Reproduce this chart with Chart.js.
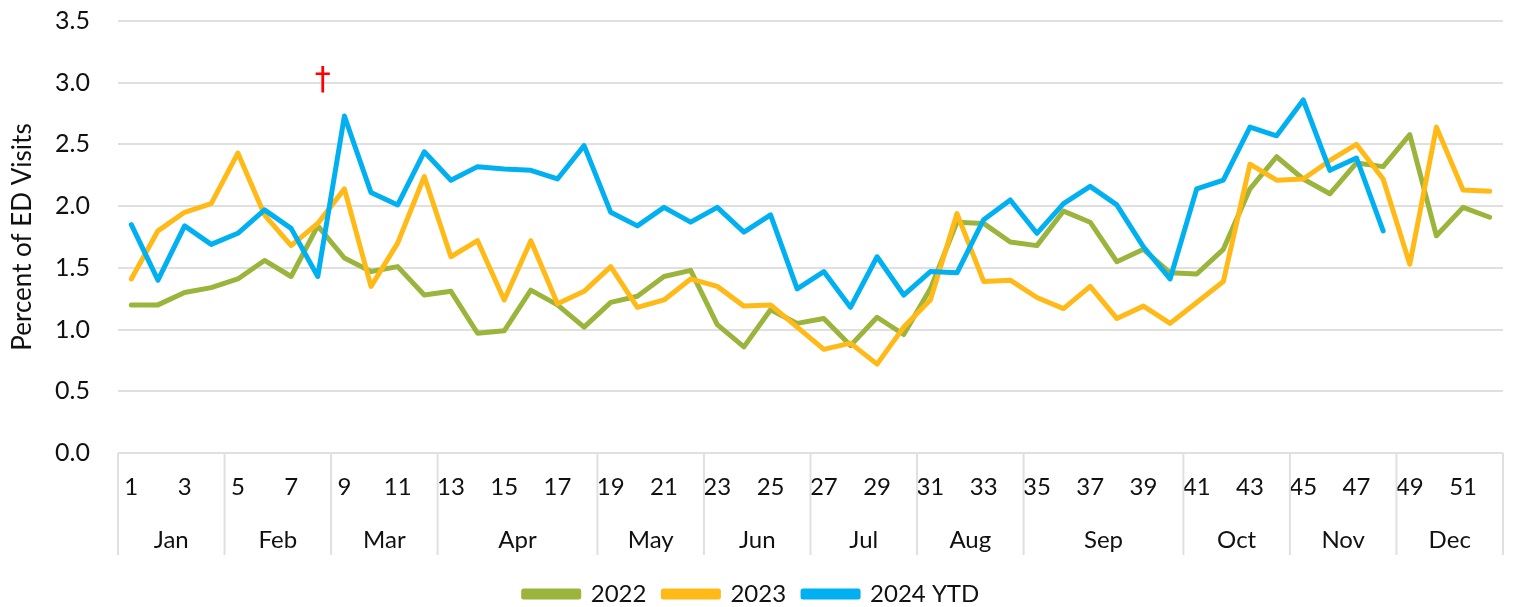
<!DOCTYPE html>
<html>
<head>
<meta charset="utf-8">
<script src="https://cdn.jsdelivr.net/npm/chart.js@4.4.1/dist/chart.umd.min.js"></script>
<style>
  html, body { margin: 0; padding: 0; background: #fff; }
  #wrap { width: 1515px; height: 607px; }
</style>
</head>
<body>
<div id="wrap"><canvas id="edChart" width="1515" height="607"></canvas></div>
<script>
// week numbers (x categories)
const weeks = [];
for (let w = 1; w <= 52; w++) weeks.push(String(w));

// month groups under the week numbers
const months = ['Jan', 'Feb', 'Mar', 'Apr', 'May', 'Jun', 'Jul', 'Aug', 'Sep', 'Oct', 'Nov', 'Dec'];
const monthWeeks = [4, 4, 4, 6, 4, 4, 4, 4, 6, 4, 4, 4];

const yTicks = [0, 0.5, 1.0, 1.5, 2.0, 2.5, 3.0, 3.5];

const values2022 = [1.20, 1.20, 1.30, 1.34, 1.41, 1.56, 1.43, 1.84, 1.58, 1.47,
	1.51, 1.28, 1.31, 0.97, 0.99, 1.32, 1.20, 1.02, 1.22, 1.27,
	1.43, 1.48, 1.04, 0.86, 1.16, 1.05, 1.09, 0.87, 1.10, 0.96,
	1.33, 1.87, 1.86, 1.71, 1.68, 1.96, 1.87, 1.55, 1.65, 1.46,
	1.45, 1.65, 2.14, 2.40, 2.22, 2.10, 2.35, 2.32, 2.58, 1.76,
	1.99, 1.91];

const values2023 = [1.41, 1.80, 1.95, 2.02, 2.43, 1.93, 1.68, 1.86, 2.14, 1.35,
	1.70, 2.24, 1.59, 1.72, 1.24, 1.72, 1.21, 1.31, 1.51, 1.18,
	1.24, 1.41, 1.35, 1.19, 1.20, 1.02, 0.84, 0.89, 0.72, 1.02,
	1.24, 1.94, 1.39, 1.40, 1.26, 1.17, 1.35, 1.09, 1.19, 1.05,
	1.22, 1.39, 2.34, 2.21, 2.22, 2.37, 2.50, 2.22, 1.53, 2.64,
	2.13, 2.12];

const values2024 = [1.85, 1.40, 1.84, 1.69, 1.78, 1.97, 1.82, 1.43, 2.73, 2.11,
	2.01, 2.44, 2.21, 2.32, 2.30, 2.29, 2.22, 2.49, 1.95, 1.84,
	1.99, 1.87, 1.99, 1.79, 1.93, 1.33, 1.47, 1.18, 1.59, 1.28,
	1.47, 1.46, 1.89, 2.05, 1.78, 2.02, 2.16, 2.01, 1.67, 1.41,
	2.14, 2.21, 2.64, 2.57, 2.86, 2.29, 2.39, 1.80];

const FONT = 'Lato, "Open Sans", sans-serif';
const TEXT = '#111111';
const GRID = '#e0e0e0';

// draws the month row, its divider lines and the red dagger note
const monthRowPlugin = {
	id: 'monthRow',
	afterDraw(chart) {
		const ctx = chart.ctx;
		const x = chart.scales.x;
		const y = chart.scales.y;
		const half = (x.getPixelForValue(1) - x.getPixelForValue(0)) / 2;
		ctx.save();
		ctx.strokeStyle = GRID;
		ctx.lineWidth = 2;
		let start = 0;
		const edges = [x.getPixelForValue(0) - half];
		monthWeeks.forEach(n => {
			edges.push(x.getPixelForValue(start + n - 1) + half);
			start += n;
		});
		edges.forEach(px => {
			ctx.beginPath();
			ctx.moveTo(px, x.top);
			ctx.lineTo(px, x.top + 102);
			ctx.stroke();
		});
		ctx.fillStyle = TEXT;
		ctx.font = '24px ' + FONT;
		ctx.textAlign = 'center';
		ctx.textBaseline = 'middle';
		months.forEach((m, i) => {
			ctx.fillText(m, (edges[i] + edges[i + 1]) / 2, x.top + 87);
		});
		// dagger note near week 8/9
		ctx.fillStyle = '#ff0000';
		ctx.font = '32px "DejaVu Sans", sans-serif';
		ctx.fillText('\u2020', x.getPixelForValue(7) + 5, y.getPixelForValue(3.02));
		ctx.restore();
	}
};

const lineStyle = { borderWidth: 5, pointRadius: 0, pointHoverRadius: 0, tension: 0, borderJoinStyle: 'round', borderCapStyle: 'round', fill: false };

new Chart(document.getElementById('edChart'), {
	type: 'line',
	data: {
		labels: weeks,
		datasets: [
			{ label: '2022', data: values2022, borderColor: '#9ab43c', backgroundColor: '#9ab43c', order: 3, ...lineStyle },
			{ label: '2023', data: values2023, borderColor: '#ffba18', backgroundColor: '#ffba18', order: 2, ...lineStyle },
			{ label: '2024 YTD', data: values2024, borderColor: '#00b0f0', backgroundColor: '#00b0f0', order: 1, ...lineStyle }
		]
	},
	options: {
		responsive: false,
		animation: false,
		layout: { padding: { top: 21, left: 0, right: 12, bottom: -9 } },
		plugins: {
			tooltip: { enabled: false },
			legend: {
				position: 'bottom',
				labels: {
					font: { size: 24, family: FONT },
					color: TEXT,
					boxWidth: 55,
					boxHeight: 6,
					padding: 17,
					sort: (a, b) => a.datasetIndex - b.datasetIndex
				}
			}
		},
		scales: {
			x: {
				offset: true,
				grid: { display: false, drawTicks: false },
				border: { display: false },
				ticks: {
					autoSkip: false,
					maxRotation: 0,
					padding: 20,
					color: TEXT,
					font: { size: 24, family: FONT },
					callback: (v, i) => (i % 2 === 0 ? weeks[i] : '')
				},
				afterFit: s => { s.height = 112; }
			},
			y: {
				min: 0,
				max: 3.5,
				afterBuildTicks: s => { s.ticks = yTicks.map(v => ({ value: v })); },
				// invisible tick marks make the gap between labels and grid
				grid: { color: GRID, lineWidth: 2, drawTicks: true, tickLength: 24, tickColor: 'rgba(0,0,0,0)' },
				border: { display: false },
				ticks: {
					padding: 4,
					color: TEXT,
					font: { size: 25, family: FONT },
					callback: v => v.toFixed(1)
				},
				title: {
					display: true,
					text: 'Percent of ED Visits',
					color: TEXT,
					font: { size: 26, family: FONT },
					padding: { top: 7, bottom: 0 }
				},
				afterFit: s => { s.width = 118; }
			}
		}
	},
	plugins: [monthRowPlugin]
});
</script>
</body>
</html>
